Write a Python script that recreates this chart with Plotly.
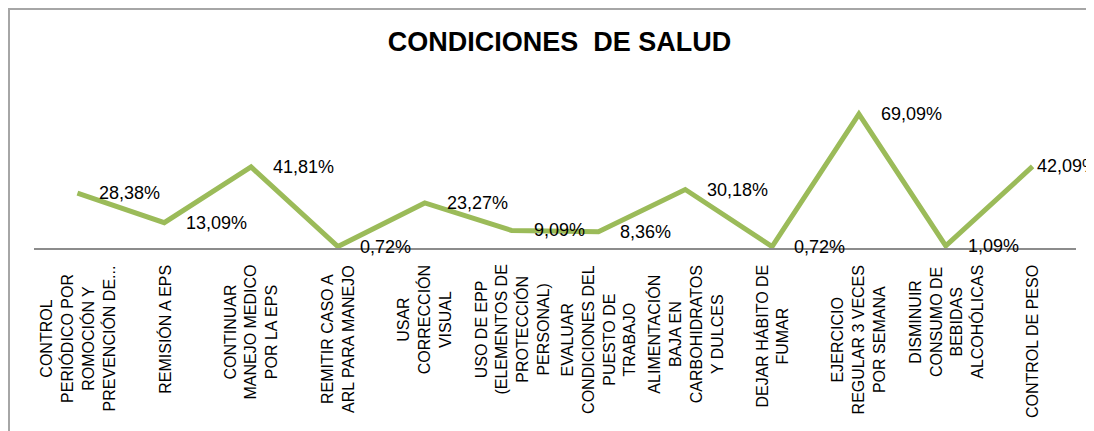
import plotly.graph_objects as go

# Data
categories = [
    "CONTROL<br>PERIÓDICO POR<br>ROMOCIÓN Y<br>PREVENCIÓN DE...",
    "REMISIÓN A EPS",
    "CONTINUAR<br>MANEJO MEDICO<br>POR LA EPS",
    "REMITIR CASO A<br>ARL PARA MANEJO",
    "USAR<br>CORRECCIÓN<br>VISUAL",
    "USO DE EPP<br>(ELEMENTOS DE<br>PROTECCIÓN<br>PERSONAL)",
    "EVALUAR<br>CONDICIONES DEL<br>PUESTO DE<br>TRABAJO",
    "ALIMENTACIÓN<br>BAJA EN<br>CARBOHIDRATOS<br>Y DULCES",
    "DEJAR HÁBITO DE<br>FUMAR",
    "EJERCICIO<br>REGULAR 3 VECES<br>POR SEMANA",
    "DISMINUIR<br>CONSUMO DE<br>BEBIDAS<br>ALCOHÓLICAS",
    "CONTROL DE PESO",
]
values = [28.38, 13.09, 41.81, 0.72, 23.27, 9.09, 8.36, 30.18, 0.72, 69.09, 1.09, 42.09]
title_text = "CONDICIONES\u00a0 DE SALUD"

# Layout in pixels (page body has an 8px margin, so shift everything by it)
OFF = 8
W, H = 1094 - OFF, 431 - OFF
ML = 34 - OFF
MR = W - (1076 - OFF)
MT = 93 - OFF
MB = H - (248 - OFF)
plot_w = W - ML - MR
plot_h = H - MT - MB


def px_x(px):
    return (px - OFF - ML) / plot_w


def px_y(py):
    return (H - MB - (py - OFF)) / plot_h


x_idx = list(range(len(values)))
labels = [f"{v:.2f}".replace(".", ",") + "%" for v in values]

fig = go.Figure()
fig.add_trace(go.Scatter(
    x=x_idx,
    y=values,
    mode="lines",
    line=dict(color="#9BBB59", width=5),
    hoverinfo="skip",
))

annotations = []
# data labels, right of each point (last one pulled in as in the original)
for i, (v, t) in enumerate(zip(values, labels)):
    annotations.append(dict(
        x=i, y=v, xref="x", yref="y",
        text=t, showarrow=False,
        xanchor="left", yanchor="middle",
        xshift=20 if i < len(values) - 1 else 2,
        font=dict(family="Liberation Sans, Arial", size=18, color="black"),
    ))

# category labels, rotated, lines centred
for i, c in enumerate(categories):
    annotations.append(dict(
        x=i, y=0, xref="x", yref="paper",
        text=c, showarrow=False, textangle=-90,
        xanchor="center", yanchor="top", yshift=-15, align="center",
        font=dict(family="Liberation Sans, Arial", size=16, color="black"),
    ))

fig.update_layout(
    width=W, height=H,
    margin=dict(l=ML, r=MR, t=MT, b=MB),
    paper_bgcolor="white",
    plot_bgcolor="white",
    showlegend=False,
    title=dict(
        text=title_text,
        x=(559.5 - OFF) / W, xanchor="center",
        y=1 - (42 - OFF) / H, yanchor="middle",
        font=dict(family="Liberation Sans, Arial", size=27, color="black", weight="bold"),
    ),
    xaxis=dict(
        range=[-0.5, len(values) - 0.5],
        showticklabels=False, ticks="", showgrid=False, zeroline=False,
        showline=True, linecolor="#8c8c8c", linewidth=2,
    ),
    yaxis=dict(
        range=[0, 80], visible=False, showgrid=False, zeroline=False,
    ),
    annotations=annotations,
    shapes=[dict(
        type="rect", xref="paper", yref="paper",
        x0=px_x(OFF + 1), x1=px_x(1120), y0=px_y(460), y1=px_y(OFF + 1),
        line=dict(color="#a6a6a6", width=2), fillcolor="rgba(0,0,0,0)",
        layer="below",
    )],
)

fig.write_html("out.html")
